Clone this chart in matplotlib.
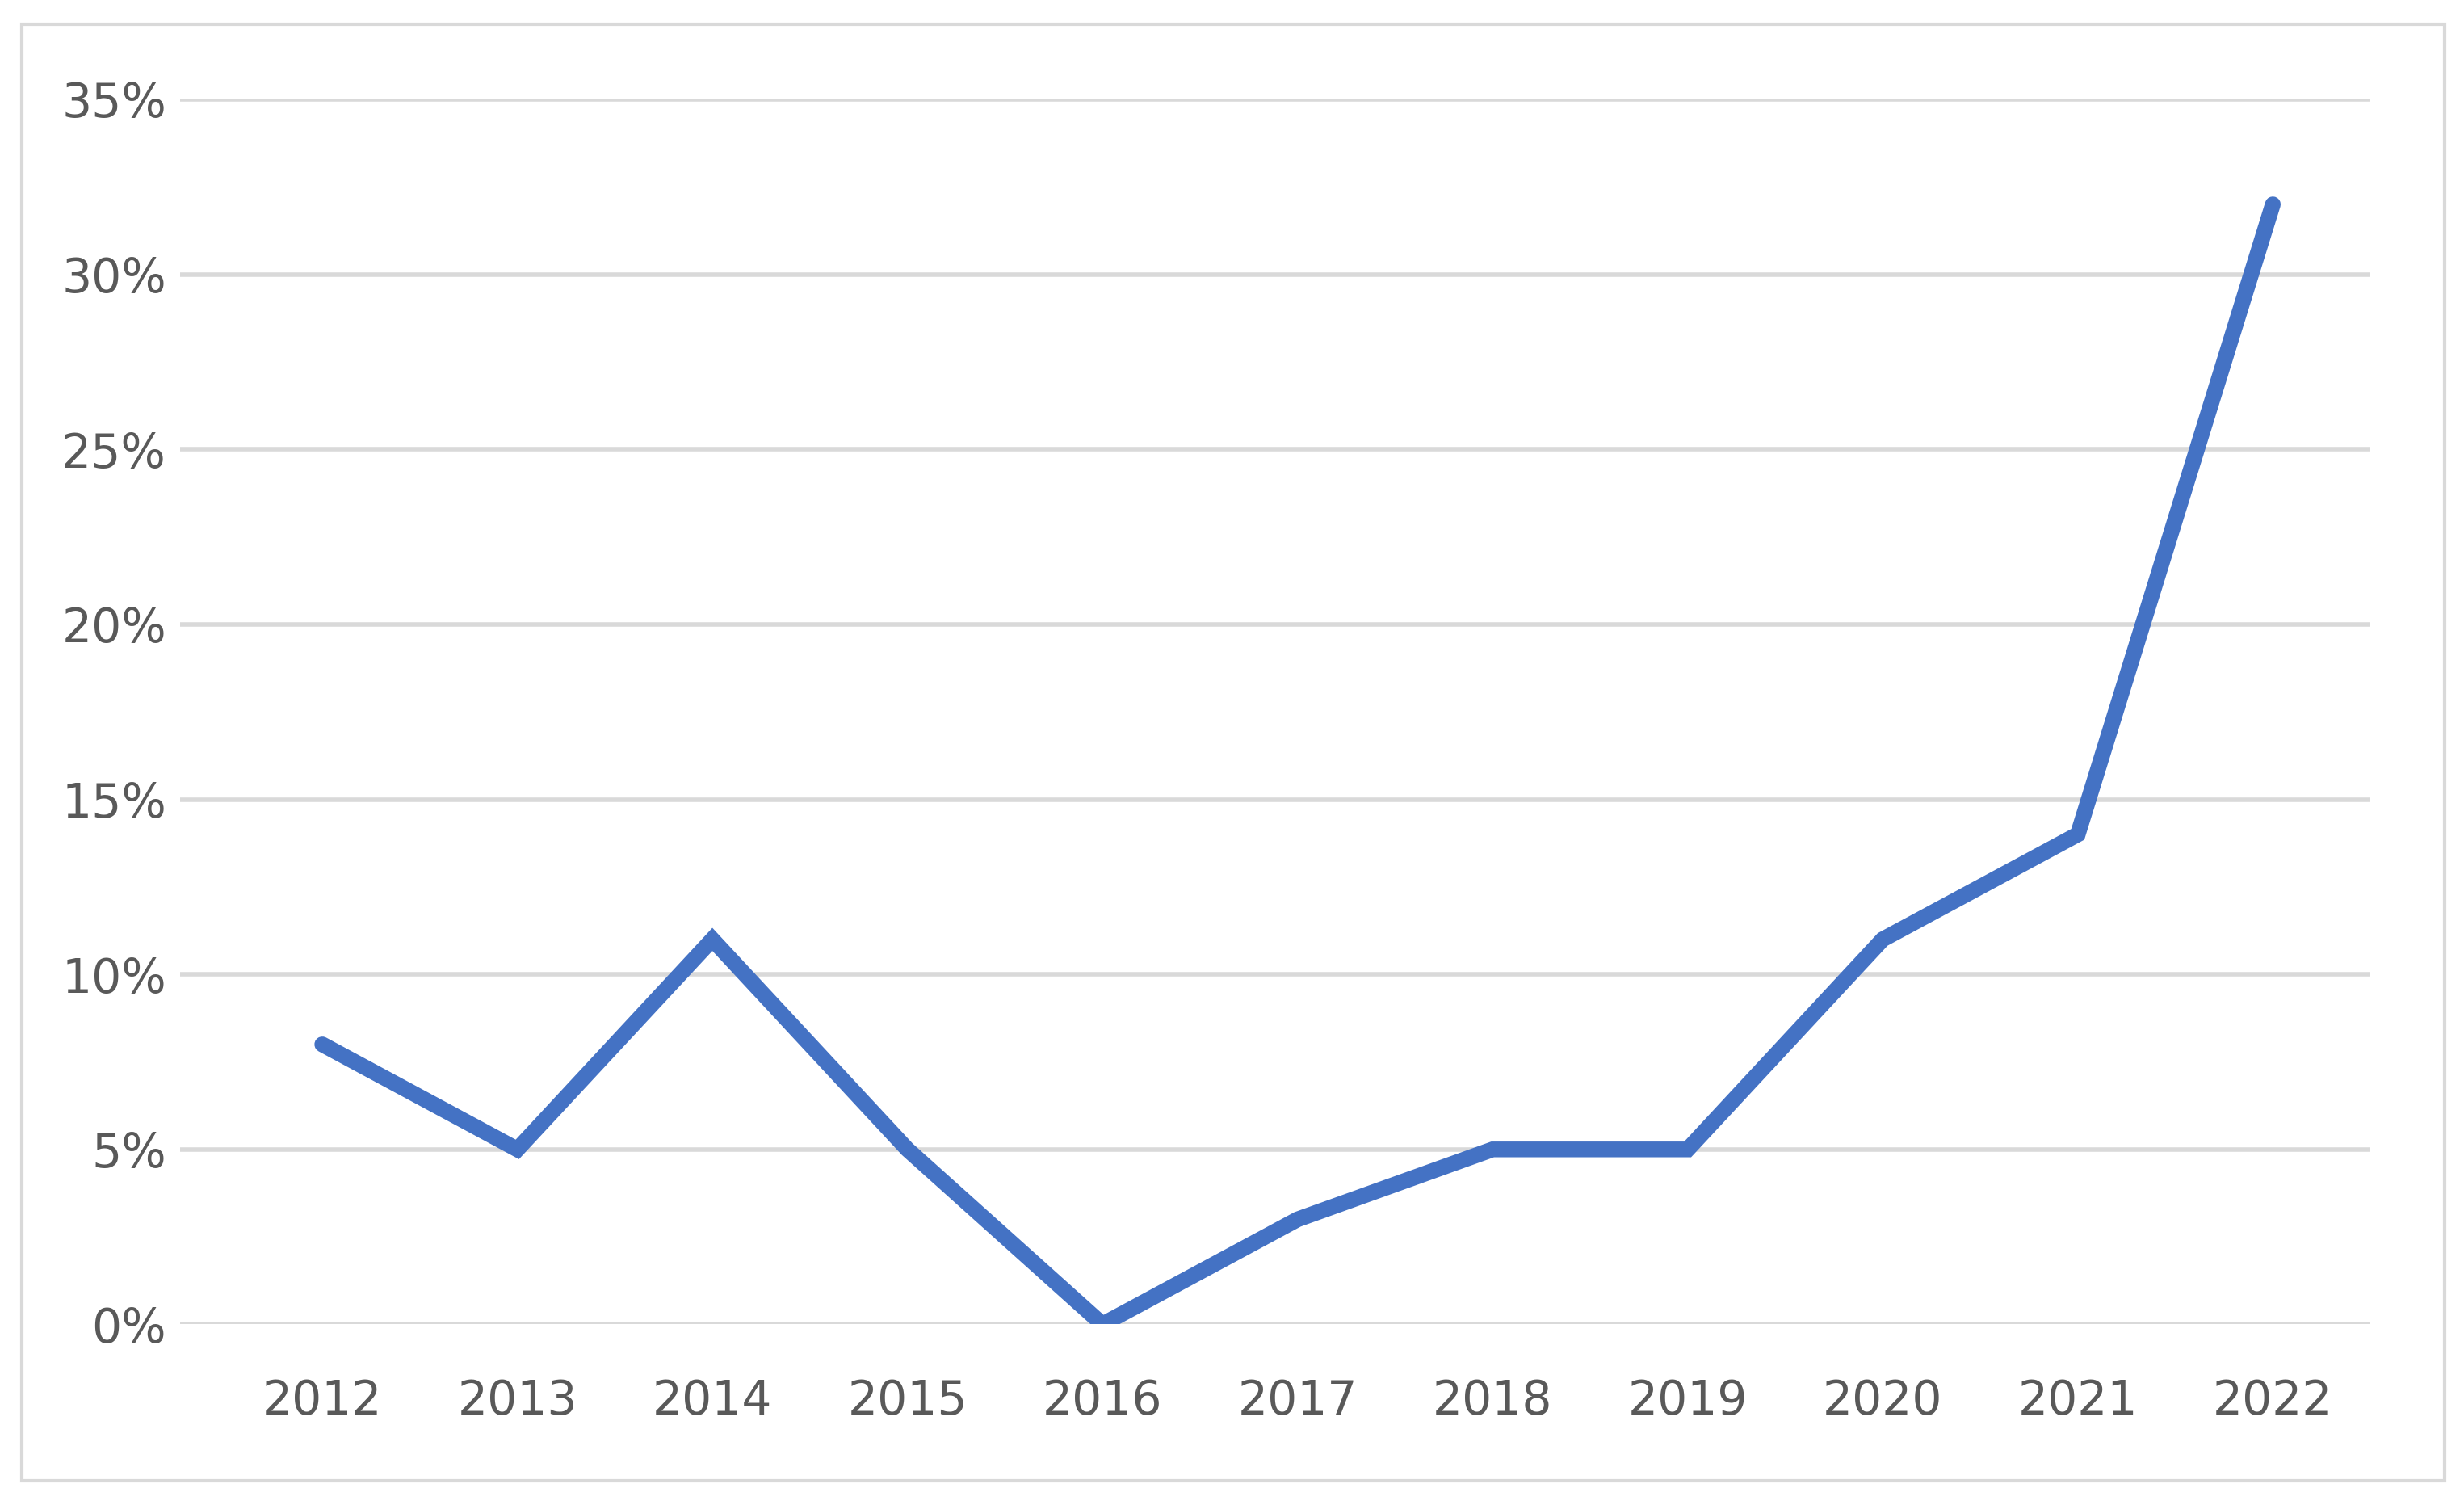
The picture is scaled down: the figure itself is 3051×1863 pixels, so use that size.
import matplotlib.pyplot as plt
from matplotlib.patches import Rectangle
from matplotlib.ticker import FuncFormatter

years = [2012, 2013, 2014, 2015, 2016, 2017, 2018, 2019, 2020, 2021, 2022]
values = [8, 5, 11, 5, 0, 3, 5, 5, 11, 14, 32]

fig = plt.figure(figsize=(30.51, 18.63), dpi=100)
fig.patches.append(Rectangle((0.009, 0.016), 0.983, 0.968, transform=fig.transFigure,
                             fill=False, edgecolor='#D9D9D9', linewidth=3))
ax = fig.add_axes([0.073, 0.12, 0.889, 0.814])
ax.plot(years, values, color='#4472C4', linewidth=14, solid_capstyle='round', solid_joinstyle='miter')
ax.set_xlim(2011.27, 2022.5)
ax.set_ylim(0, 35)
ax.set_yticks(range(0, 36, 5))
ax.set_xticks(years)
ax.yaxis.set_major_formatter(FuncFormatter(lambda v, p: '%d%%' % v))
ax.grid(axis='y', color='#D9D9D9', linewidth=4)
ax.set_axisbelow(True)
for s in ax.spines.values():
    s.set_visible(False)
ax.tick_params(length=0, labelsize=42, labelcolor='#595959')
ax.tick_params(axis='y', pad=12)
ax.tick_params(axis='x', pad=48)
plt.savefig('out.png')
